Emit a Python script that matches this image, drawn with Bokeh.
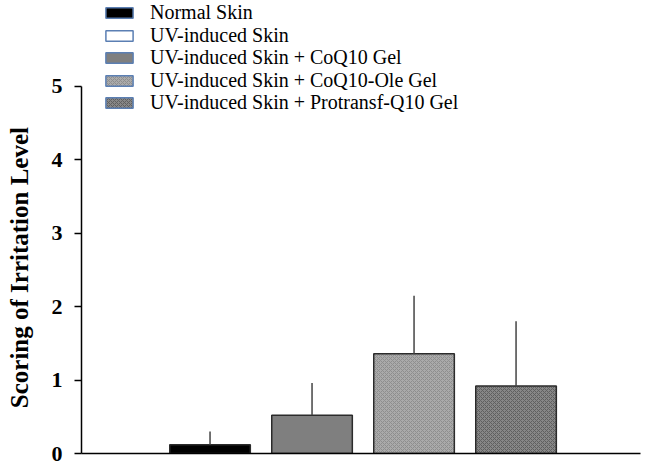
from bokeh.plotting import figure
from bokeh.models import ColumnDataSource, Legend, LegendItem, Range1d, FixedTicker
from bokeh.embed import file_html
from bokeh.resources import INLINE

# ---- data ----
legend_labels = ["Normal Skin", "UV-induced Skin", "UV-induced Skin + CoQ10 Gel",
                 "UV-induced Skin + CoQ10-Ole Gel", "UV-induced Skin + Protransf-Q10 Gel"]
categories = ["Normal Skin", "UV-induced Skin + CoQ10 Gel",
              "UV-induced Skin + CoQ10-Ole Gel", "UV-induced Skin + Protransf-Q10 Gel"]
means = [0.12, 0.52, 1.36, 0.92]
errors = [0.18, 0.44, 0.79, 0.88]
y_ticks = [0, 1, 2, 3, 4, 5]
y_title = "Scoring of Irritation Level"

# ---- styles ----
bar_fill = ["#000000", "#7f7f7f", "#aaaaaa", "#878787"]
bar_hatch = [" ", " ", "diagonal_cross", "diagonal_cross"]
bar_hatch_color = ["#000000", "#7f7f7f", "#8e8e8e", "#5f5f5f"]
legend_fill = ["#000000", "#ffffff", "#7f7f7f", "#aaaaaa", "#878787"]
legend_hatch = [" ", " ", " ", "diagonal_cross", "diagonal_cross"]
legend_hatch_color = ["#000000", "#ffffff", "#7f7f7f", "#8e8e8e", "#5f5f5f"]

FRAME_H = 453          # plot frame height in px (0 .. 6.17 on y)
ROW0, ROW_STEP, ITEM_H = 12, 22.5, 24   # legend row layout in px

nan = float("nan")
xs = list(range(1, len(categories) + 1))
src = ColumnDataSource(dict(
    x=xs, top=means, err_top=[m + e for m, e in zip(means, errors)],
    fill=bar_fill, hatch=bar_hatch, hcolor=bar_hatch_color, cat=categories))

p = figure(width=645, height=464, output_backend="svg", toolbar_location=None,
           x_range=Range1d(-0.26, 5.22), y_range=Range1d(0, 6.17),
           min_border_left=81, min_border_right=5, min_border_top=0, min_border_bottom=11)
p.outline_line_color = None
p.grid.visible = False
p.background_fill_color = "white"

p.vbar(x="x", top="top", bottom=0, width=0.79, source=src,
       fill_color="fill", line_color="#2b2b2b", line_width=1.5,
       hatch_pattern="hatch", hatch_color="hcolor", hatch_scale=4, hatch_weight=1)
p.segment(x0="x", x1="x", y0="top", y1="err_top", source=src,
          line_color="#444444", line_width=1.5)

# y axis
ya = p.yaxis[0]
ya.ticker = FixedTicker(ticks=y_ticks)
ya.bounds = (y_ticks[0], y_ticks[-1])
ya.minor_tick_line_color = None
ya.major_tick_in = 0
ya.major_tick_out = 7
ya.major_tick_line_width = 1.5
ya.axis_line_width = 1.5
ya.axis_line_color = "black"
ya.major_label_text_font = "Liberation Serif"
ya.major_label_text_font_style = "bold"
ya.major_label_text_font_size = "22px"
ya.major_label_text_color = "black"
ya.major_label_standoff = 12
# trailing no-break spaces keep the label centred on the 0..5 part of the axis
ya.axis_label = y_title + "\u00a0" * 13
ya.axis_label_text_font = "Liberation Serif"
ya.axis_label_text_font_style = "bold"
ya.axis_label_text_font_size = "25px"
ya.axis_label_text_color = "black"
ya.axis_label_standoff = 16

# x axis
xa = p.xaxis[0]
xa.ticker = FixedTicker(ticks=[])
xa.major_tick_out = 0
xa.major_tick_in = 0
xa.minor_tick_line_color = None
xa.major_label_text_font_size = "0px"
xa.major_label_standoff = 0
xa.axis_label_standoff = 0
xa.axis_line_width = 1.5
xa.axis_line_color = "black"

# legend swatches (renderer with no visible marks; styles only)
lsrc = ColumnDataSource(dict(x=[nan] * len(legend_labels), top=[nan] * len(legend_labels),
                             fill=legend_fill, hatch=legend_hatch, hcolor=legend_hatch_color))
lr = p.vbar(x="x", top="top", bottom=0, width=0.5, source=lsrc,
            fill_color="fill", line_color="#5b7fb3", line_width=1.5,
            hatch_pattern="hatch", hatch_color="hcolor", hatch_scale=4, hatch_weight=1)

for i, lab in enumerate(legend_labels):
    centre = ROW0 + i * ROW_STEP
    lg = Legend(items=[LegendItem(label=lab, renderers=[lr], index=i)],
                location=(21, FRAME_H - (centre + ITEM_H / 2)), orientation="vertical",
                glyph_width=34, glyph_height=13, label_standoff=14, spacing=0,
                padding=0, margin=0, label_height=20,
                label_text_font="Liberation Serif", label_text_font_size="20px",
                label_text_color="black", border_line_color=None,
                background_fill_alpha=0)
    p.add_layout(lg, "center")

open("out.html", "w").write(file_html(p, INLINE))
